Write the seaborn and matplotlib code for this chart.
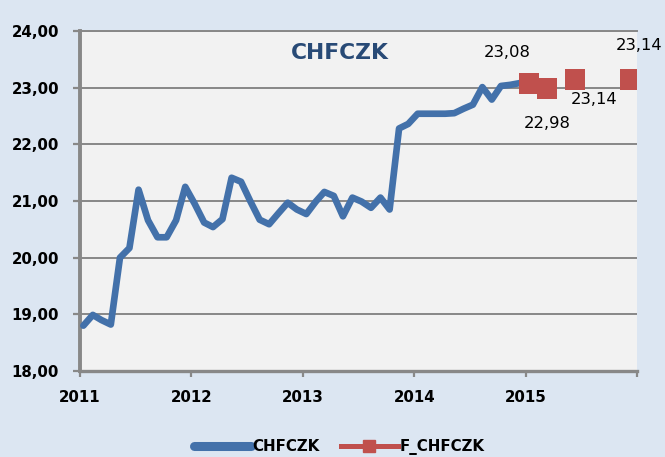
import pandas as pd
import numpy as np
import seaborn as sns
import matplotlib.pyplot as plt
import matplotlib.dates as mdates
from matplotlib.lines import Line2D
from matplotlib.ticker import FuncFormatter, FixedLocator

# --- data ---
hist_label = 'CHFCZK'
fcst_label = 'F_CHFCZK'

hist_values = [18.80, 18.99, 18.90, 18.82, 20.00, 20.17, 21.20, 20.66, 20.36, 20.36, 20.66, 21.25,
               20.95, 20.62, 20.54, 20.68, 21.41, 21.34, 21.00, 20.67, 20.59, 20.78, 20.97, 20.85,
               20.77, 20.99, 21.16, 21.09, 20.73, 21.06, 20.99, 20.88, 21.06, 20.85, 22.28, 22.36,
               22.54, 22.54, 22.54, 22.54, 22.55, 22.63, 22.70, 23.01, 22.79, 23.03, 23.05, 23.08]
hist_start = '2011-01'

fcst_months = ['2015-01', '2015-03', '2015-06', '2015-12']
fcst_values = [23.08, 22.98, 23.14, 23.14]

year_ticks = [2011, 2012, 2013, 2014, 2015, 2016]
year_labels = ['2011', '2012', '2013', '2014', '2015', '']

# points sit a little after the first of the month
day_shift = pd.Timedelta(days=11)
hist_dates = pd.date_range(hist_start, periods=len(hist_values), freq='MS') + day_shift
fcst_dates = pd.to_datetime(fcst_months) + day_shift

hist_df = pd.DataFrame({'date': hist_dates, 'value': hist_values})
fcst_df = pd.DataFrame({'date': fcst_dates, 'value': fcst_values})

# --- colours ---
bg_color = '#DCE6F2'
plot_bg = '#F2F2F2'
grid_color = '#888888'
blue = '#4371AA'
red = '#C0504D'
title_color = '#284A76'

fig = plt.figure(figsize=(6.65, 4.57), dpi=100, facecolor=bg_color)
ax = fig.add_axes([80 / 665, 1 - 371 / 457, 557 / 665, 340 / 457])
ax.set_facecolor(plot_bg)

sns.lineplot(data=hist_df, x='date', y='value', ax=ax, color=blue, linewidth=4.8,
             solid_joinstyle='round', solid_capstyle='round', zorder=3, legend=False)
sns.scatterplot(data=fcst_df, x='date', y='value', ax=ax, color=red, marker='s', s=225,
                edgecolor='none', zorder=4, legend=False)

# data labels
label_offsets = [(-16, 22), (0, -25), (14, -14), (6, 25)]
for d, v, off in zip(fcst_dates, fcst_values, label_offsets):
    ax.annotate(f"{v:.2f}".replace('.', ','), xy=(d, v), xytext=off, textcoords='offset points',
                ha='center', va='center', fontsize=11.8, color='black', annotation_clip=False)

# axes limits / ticks
ax.set_ylim(18, 24)
ax.set_xlim(pd.Timestamp('2011-01-01'), pd.Timestamp('2016-01-01'))
ax.yaxis.set_major_locator(FixedLocator(np.arange(18, 25, 1)))
ax.yaxis.set_major_formatter(FuncFormatter(lambda v, p: f"{v:.2f}".replace('.', ',')))
tick_pos = [mdates.date2num(pd.Timestamp(f'{y}-01-01')) for y in year_ticks]
ax.set_xticks(tick_pos)
ax.set_xticklabels(year_labels)

ax.set_xlabel('')
ax.set_ylabel('')

for lab in ax.get_xticklabels() + ax.get_yticklabels():
    lab.set_fontweight('bold')
    lab.set_fontsize(10.8)

ax.tick_params(axis='y', length=5, width=1.6, color=grid_color, pad=10)
ax.tick_params(axis='x', length=4.5, width=1.6, color=grid_color, pad=9)

ax.grid(axis='y', color=grid_color, linewidth=1.4, zorder=1)
ax.grid(axis='x', visible=False)
ax.set_axisbelow(True)

ax.spines['right'].set_visible(False)
ax.spines['top'].set_color(grid_color)
ax.spines['top'].set_linewidth(1.4)
ax.spines['left'].set_color(grid_color)
ax.spines['left'].set_linewidth(2.8)
ax.spines['bottom'].set_color(grid_color)
ax.spines['bottom'].set_linewidth(2.4)

# title inside the plot area
ax.text(0.466, 0.965, 'CHFCZK', transform=ax.transAxes, ha='center', va='top',
        fontsize=15.7, fontweight='bold', color=title_color)

# legend
handles = [Line2D([0], [0], color=blue, linewidth=6.5, solid_capstyle='round'),
           Line2D([0], [0], color=red, linewidth=3.6, marker='s', markersize=8.6)]
leg = fig.legend(handles, [hist_label, fcst_label], loc='center', bbox_to_anchor=(0.51, 0.022),
                 ncol=2, frameon=False, handlelength=3.8, handletextpad=0.1, columnspacing=1.4,
                 prop={'weight': 'bold', 'size': 10.8})

plt.savefig('out.png', dpi=100, facecolor=bg_color)
